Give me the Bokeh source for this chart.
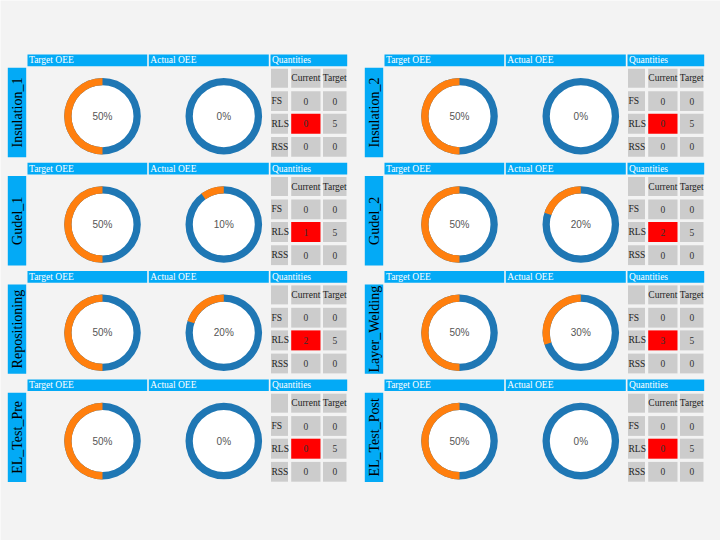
import math
from bokeh.plotting import figure
from bokeh.models import Range1d, ColumnDataSource
from bokeh.core.properties import value
from bokeh.embed import file_html
from bokeh.resources import INLINE

# ---------------- data ----------------
stations = ["Insulation_1", "Insulation_2", "Gudel_1", "Gudel_2",
            "Repositioning", "Layer_Welding", "EL_Test_Pre", "EL_Test_Post"]
target_oee = [50, 50, 50, 50, 50, 50, 50, 50]
actual_oee = [0, 0, 10, 20, 20, 30, 0, 0]
fs_current = [0, 0, 0, 0, 0, 0, 0, 0]
fs_target = [0, 0, 0, 0, 0, 0, 0, 0]
rls_current = [0, 0, 1, 2, 2, 3, 0, 0]
rls_target = [5, 5, 5, 5, 5, 5, 5, 5]
rss_current = [0, 0, 0, 0, 0, 0, 0, 0]
rss_target = [0, 0, 0, 0, 0, 0, 0, 0]
header_labels = ["Target OEE", "Actual OEE", "Quantities"]
table_cols = ["Current", "Target"]
table_rows = ["FS", "RLS", "RSS"]

# ---------------- styling / layout ----------------
BG = "#f3f3f3"
HEAD = "#03aaf6"
CELL = "#cccccc"
RED = "#ff0000"
BLUE = "#1f77b4"
ORANGE = "#ff7f0e"
SERIF = value("Liberation Serif")
SANS = value("Liberation Sans")

COL_DX = 357.0
ROW_DY = 108.3


def Y(yref):
    return 540.0 - yref


p = figure(width=720, height=540, x_range=Range1d(0, 720), y_range=Range1d(0, 540),
           x_axis_type=None, y_axis_type=None, toolbar_location=None,
           output_backend="svg", background_fill_color=BG, border_fill_color=BG,
           outline_line_color=None, min_border=0)
p.grid.visible = False

head_x = [(27.0, 146.7), (148.3, 268.3), (270.0, 346.7)]
head_y = (54.0, 65.7)
lab_x = (7.3, 25.7)
lab_y = (67.3, 156.7)
donut_cx = [102.0, 223.3]
donut_cy = 115.7
R_OUT, R_IN = 38.3, 31.0
tcol_x = [(270.5, 287.5), (290.7, 320.0), (322.5, 346.0)]
trow_y = [(68.3, 87.3), (90.7, 110.5), (113.3, 133.3), (136.5, 156.3)]

quads = dict(left=[], right=[], top=[], bottom=[], color=[])
htext = dict(x=[], y=[], t=[])
ltext = dict(x=[], y=[], t=[])
ctext = dict(x=[], y=[], t=[])
rtext = dict(x=[], y=[], t=[])
vtext = dict(x=[], y=[], t=[])
dtext = dict(x=[], y=[], t=[])
ann = dict(x=[], y=[])
wedge = dict(x=[], y=[], s=[], e=[])


def add_quad(x0, x1, y0, y1, c):
    quads["left"].append(x0)
    quads["right"].append(x1)
    quads["top"].append(Y(y0))
    quads["bottom"].append(Y(y1))
    quads["color"].append(c)


for i, name in enumerate(stations):
    ox = COL_DX * (i % 2)
    oy = ROW_DY * (i // 2)
    # headers
    for (x0, x1), lab in zip(head_x, header_labels):
        add_quad(x0 + ox, x1 + ox, head_y[0] + oy, head_y[1] + oy, HEAD)
        htext["x"].append(x0 + ox + 1.5)
        htext["y"].append(Y((head_y[0] + head_y[1]) / 2 + oy))
        htext["t"].append(lab)
    # station label bar
    add_quad(lab_x[0] + ox, lab_x[1] + ox, lab_y[0] + oy, lab_y[1] + oy, HEAD)
    vtext["x"].append((lab_x[0] + lab_x[1]) / 2 + ox + 0.5)
    vtext["y"].append(Y((lab_y[0] + lab_y[1]) / 2 + oy))
    vtext["t"].append(name)
    # donuts
    for cx, pct in zip(donut_cx, [target_oee[i], actual_oee[i]]):
        ann["x"].append(cx + ox)
        ann["y"].append(Y(donut_cy + oy))
        if pct > 0:
            wedge["x"].append(cx + ox)
            wedge["y"].append(Y(donut_cy + oy))
            wedge["s"].append(math.pi / 2)
            wedge["e"].append(math.pi / 2 + 2 * math.pi * pct / 100.0)
        dtext["x"].append(cx + ox)
        dtext["y"].append(Y(donut_cy + oy))
        dtext["t"].append(f"{pct}%")
    # table
    vals = [[fs_current[i], fs_target[i]],
            [rls_current[i], rls_target[i]],
            [rss_current[i], rss_target[i]]]
    for r, (y0, y1) in enumerate(trow_y):
        for c, (x0, x1) in enumerate(tcol_x):
            color = RED if (r == 2 and c == 1) else CELL
            add_quad(x0 + ox, x1 + ox, y0 + oy, y1 + oy, color)
            cxm = (x0 + x1) / 2 + ox
            cym = Y((y0 + y1) / 2 + oy)
            if r == 0 and c > 0:
                ctext["x"].append(cxm)
                ctext["y"].append(cym)
                ctext["t"].append(table_cols[c - 1])
            elif r > 0 and c == 0:
                ltext["x"].append(x0 + ox + 0.5)
                ltext["y"].append(cym)
                ltext["t"].append(table_rows[r - 1])
            elif r > 0 and c > 0:
                rtext["x"].append(cxm)
                rtext["y"].append(cym)
                rtext["t"].append(str(vals[r - 1][c - 1]))

p.quad(left="left", right="right", top="top", bottom="bottom", color="color",
       line_color=None, source=ColumnDataSource(quads))

p.circle(x="x", y="y", radius=R_IN, fill_color="white", line_color=None,
         source=ColumnDataSource(ann))
p.annulus(x="x", y="y", inner_radius=R_IN, outer_radius=R_OUT, fill_color=BLUE,
          line_color=None, source=ColumnDataSource(ann))
p.annular_wedge(x="x", y="y", inner_radius=R_IN, outer_radius=R_OUT,
                start_angle="s", end_angle="e", fill_color=ORANGE, line_color=None,
                source=ColumnDataSource(wedge))

p.text(x="x", y="y", text="t", source=ColumnDataSource(htext), text_font=SERIF,
       text_font_size="9.5px", text_color="white", text_align="left",
       text_baseline="middle")
p.text(x="x", y="y", text="t", source=ColumnDataSource(vtext), text_font=SERIF,
       text_font_size="14px", text_color="black", text_align="center",
       text_baseline="middle", angle=math.pi / 2)
p.text(x="x", y="y", text="t", source=ColumnDataSource(dtext), text_font=SANS,
       text_font_size="10px", text_color="#555555", text_align="center",
       text_baseline="middle")
p.text(x="x", y="y", text="t", source=ColumnDataSource(ctext), text_font=SERIF,
       text_font_size="9.5px", text_color="#222222", text_align="center",
       text_baseline="middle")
p.text(x="x", y="y", text="t", source=ColumnDataSource(ltext), text_font=SERIF,
       text_font_size="9.5px", text_color="#222222", text_align="left",
       text_baseline="middle")
p.text(x="x", y="y", text="t", source=ColumnDataSource(rtext), text_font=SERIF,
       text_font_size="9.5px", text_color="#333333", text_align="center",
       text_baseline="middle")

open("out.html", "w").write(file_html(p, INLINE))
